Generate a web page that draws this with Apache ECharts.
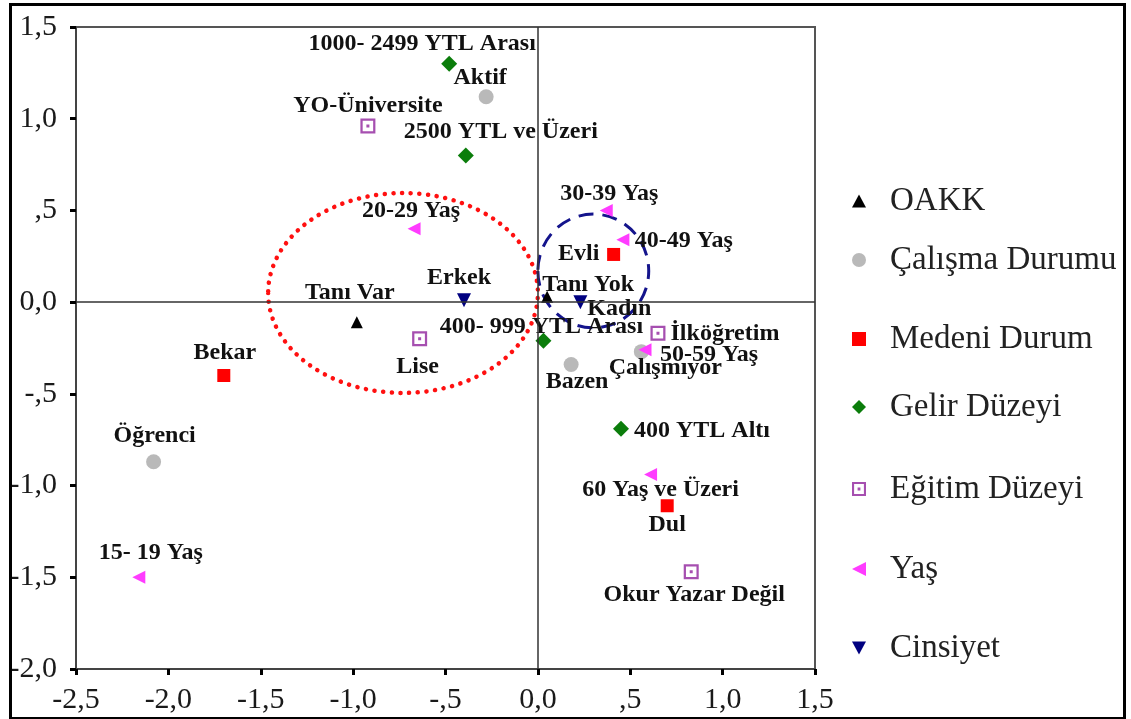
<!DOCTYPE html>
<html>
<head>
<meta charset="utf-8">
<script src="https://cdn.jsdelivr.net/npm/echarts@6/dist/echarts.min.js"></script>
<style>
html,body{margin:0;padding:0;background:#fff;}
#chart{width:1131px;height:719px;position:absolute;left:0;top:0;}
#frame{position:absolute;left:9px;top:3px;width:1111px;height:711px;border:3px solid #000;pointer-events:none;}
</style>
</head>
<body>
<div id="chart"></div>
<div id="frame"></div>
<script>
// ---- data ----
const xTicks = [-2.5, -2.0, -1.5, -1.0, -0.5, 0.0, 0.5, 1.0, 1.5];
const yTicks = [-2.0, -1.5, -1.0, -0.5, 0.0, 0.5, 1.0, 1.5];

const oakkNames = ['Tanı Var', 'Tanı Yok'];
const oakkX = [-0.98, 0.05];
const oakkY = [-0.11, 0.03];

const calismaNames = ['Aktif', 'Öğrenci', 'Bazen', 'Çalışmıyor'];
const calismaX = [-0.28, -2.08, 0.18, 0.56];
const calismaY = [1.12, -0.87, -0.34, -0.27];

const medeniNames = ['Evli', 'Bekar', 'Dul'];
const medeniX = [0.41, -1.70, 0.70];
const medeniY = [0.26, -0.40, -1.11];

const gelirNames = ['1000- 2499 YTL Arası', '2500 YTL ve Üzeri', '400- 999 YTL Arası', '400 YTL Altı'];
const gelirX = [-0.48, -0.39, 0.03, 0.45];
const gelirY = [1.30, 0.80, -0.21, -0.69];

const egitimNames = ['YO-Üniversite', 'Lise', 'İlköğretim', 'Okur Yazar Değil'];
const egitimX = [-0.92, -0.64, 0.65, 0.83];
const egitimY = [0.96, -0.20, -0.17, -1.47];

const yasNames = ['15- 19 Yaş', '20-29 Yaş', '30-39 Yaş', '40-49 Yaş', '50-59 Yaş', '60 Yaş ve Üzeri'];
const yasX = [-2.16, -0.67, 0.37, 0.46, 0.58, 0.61];
const yasY = [-1.50, 0.40, 0.50, 0.34, -0.26, -0.94];

const cinsiyetNames = ['Erkek', 'Kadın'];
const cinsiyetX = [-0.40, 0.23];
const cinsiyetY = [0.01, 0.00];

const legendNames = ['OAKK', 'Çalışma Durumu', 'Medeni Durum', 'Gelir Düzeyi', 'Eğitim Düzeyi', 'Yaş', 'Cinsiyet'];

// highlighted groups: centre x, centre y, radius x, radius y (data units)
const ellipseCx = [-0.73, 0.30];
const ellipseCy = [0.05, 0.17];
const ellipseRx = [0.73, 0.30];
const ellipseRy = [0.545, 0.31];

// ---- styling / layout (not data) ----
const labelOffsets = {
  'Tanı Var': [-7, -30], 'Tanı Yok': [41, -12],
  'Aktif': [-6, -19], 'Öğrenci': [1, -26], 'Bazen': [6, 17], 'Çalışmıyor': [24, 16],
  'Evli': [-35, -1], 'Bekar': [1, -23], 'Dul': [0, 19],
  '1000- 2499 YTL Arası': [-27, -20], '2500 YTL ve Üzeri': [35, -24], '400- 999 YTL Arası': [-2, -14], '400 YTL Altı': [81, 2],
  'YO-Üniversite': [0, -20], 'Lise': [-2, 28], 'İlköğretim': [67, 0], 'Okur Yazar Değil': [3, 23],
  '15- 19 Yaş': [12, -24], '20-29 Yaş': [-3, -18], '30-39 Yaş': [3, -17], '40-49 Yaş': [61, 1], '50-59 Yaş': [64, 5], '60 Yaş ve Üzeri': [10, 15],
  'Erkek': [-5, -23], 'Kadın': [39, 7]
};
const legendCenters = [201, 260, 339, 407, 489, 569, 648];

const SERIF = '"Liberation Serif", "Times New Roman", serif';

const symbols = {
  tri: 'path://M6,0L12,11L0,11Z',
  circle: 'circle',
  rect: 'path://M0,0H10V10H0Z',
  diamond: 'path://M6,0L12,6L6,12L0,6Z',
  boxdot: 'path://M0,0H20V20H0Z M3,3V17H17V3Z M8,8H12V12H8Z',
  left: 'path://M0,6L12,0L12,12Z',
  down: 'path://M0,0L12,0L6,11Z'
};

function makeData(names, xs, ys) {
  return names.map((n, i) => ({
    name: n,
    value: [xs[i], ys[i]],
    label: { offset: labelOffsets[n] || [0, 0] }
  }));
}

function scatter(name, names, xs, ys, symbol, size, color) {
  return {
    type: 'scatter',
    name: name,
    symbol: symbol,
    symbolSize: size,
    itemStyle: { color: color, opacity: 1 },
    data: makeData(names, xs, ys),
    label: {
      show: true,
      position: 'inside',
      formatter: '{b}',
      fontFamily: SERIF,
      fontWeight: 'bold',
      fontSize: 24,
      color: '#111',
      align: 'center',
      verticalAlign: 'middle'
    },
    emphasis: { disabled: true },
    z: 3
  };
}

function fmt(v) {
  if (Math.abs(v) < 1e-9) return '0,0';
  let s = Math.abs(v).toFixed(1).replace('.', ',');
  if (Math.abs(v) < 1) s = s.slice(1);
  return (v < 0 ? '-' : '') + s;
}

const chart = echarts.init(document.getElementById('chart'), null, { renderer: 'canvas' });

const legends = legendNames.map((n, i) => ({
  data: [n],
  left: 852,
  top: legendCenters[i] - 17,
  orient: 'vertical',
  padding: 0,
  itemWidth: 14,
  itemHeight: 14,
  selectedMode: false,
  textStyle: { fontFamily: SERIF, fontSize: 33, color: '#222', lineHeight: 34, padding: [0, 0, 0, 19] }
}));

const ellipseData = ellipseCx.map((c, i) => [c, ellipseCy[i], ellipseRx[i], ellipseRy[i], i]);
const ellipseStyles = [
  { stroke: '#ff1010', lineWidth: 4.5, lineDash: [0.1, 8.6], lineCap: 'round' },
  { stroke: '#14148c', lineWidth: 3, lineDash: [15, 9], lineCap: 'butt' }
];

const option = {
  animation: false,
  backgroundColor: '#fff',
  grid: { left: 76, right: 316, top: 27, bottom: 50, show: true, borderColor: '#555', borderWidth: 2, containLabel: false },
  legend: legends,
  xAxis: {
    type: 'value', min: xTicks[0], max: xTicks[xTicks.length - 1], interval: 0.5,
    axisLine: { show: true, onZero: false, lineStyle: { color: '#444', width: 2 } },
    axisTick: { show: true, length: 6, lineStyle: { color: '#000', width: 3 } },
    splitLine: { show: false },
    axisLabel: { formatter: fmt, fontFamily: SERIF, fontSize: 30, color: '#1a1a1a', margin: 16 }
  },
  yAxis: {
    type: 'value', min: yTicks[0], max: yTicks[yTicks.length - 1], interval: 0.5,
    axisLine: { show: true, onZero: false, lineStyle: { color: '#444', width: 2 } },
    axisTick: { show: true, length: 6, lineStyle: { color: '#000', width: 3 } },
    splitLine: { show: false },
    axisLabel: { formatter: fmt, fontFamily: SERIF, fontSize: 30, color: '#1a1a1a', margin: 19 }
  },
  series: [
    {
      type: 'custom',
      name: 'ellipses',
      silent: true,
      z: 2,
      data: ellipseData,
      renderItem: function (params, api) {
        const c = api.coord([api.value(0), api.value(1)]);
        const s = api.size([api.value(2), api.value(3)]);
        const rx = s[0], ry = s[1];
        const x0 = c[0] - rx, x1 = c[0] + rx, y = c[1];
        const d = 'M' + x0 + ',' + y + ' A' + rx + ',' + ry + ' 0 1 0 ' + x1 + ',' + y + ' A' + rx + ',' + ry + ' 0 1 0 ' + x0 + ',' + y + ' Z';
        const st = ellipseStyles[api.value(4)];
        return {
          type: 'path',
          shape: { pathData: d },
          style: Object.assign({ fill: 'none' }, st)
        };
      },
      markLine: {
        silent: true,
        symbol: ['none', 'none'],
        label: { show: false },
        lineStyle: { color: '#333', width: 1.5, type: 'solid' },
        data: [{ xAxis: 0 }, { yAxis: 0 }]
      }
    },
    scatter('OAKK', oakkNames, oakkX, oakkY, symbols.tri, 12, '#000000'),
    scatter('Çalışma Durumu', calismaNames, calismaX, calismaY, symbols.circle, 15, '#b9b9b9'),
    scatter('Medeni Durum', medeniNames, medeniX, medeniY, symbols.rect, 13, '#ff0000'),
    scatter('Gelir Düzeyi', gelirNames, gelirX, gelirY, symbols.diamond, 16, '#0b7d0b'),
    scatter('Eğitim Düzeyi', egitimNames, egitimX, egitimY, symbols.boxdot, 15, '#a64fb0'),
    scatter('Yaş', yasNames, yasX, yasY, symbols.left, 13, '#ff3cff'),
    scatter('Cinsiyet', cinsiyetNames, cinsiyetX, cinsiyetY, symbols.down, 14, '#000080')
  ]
};

chart.setOption(option);
</script>
</body>
</html>
